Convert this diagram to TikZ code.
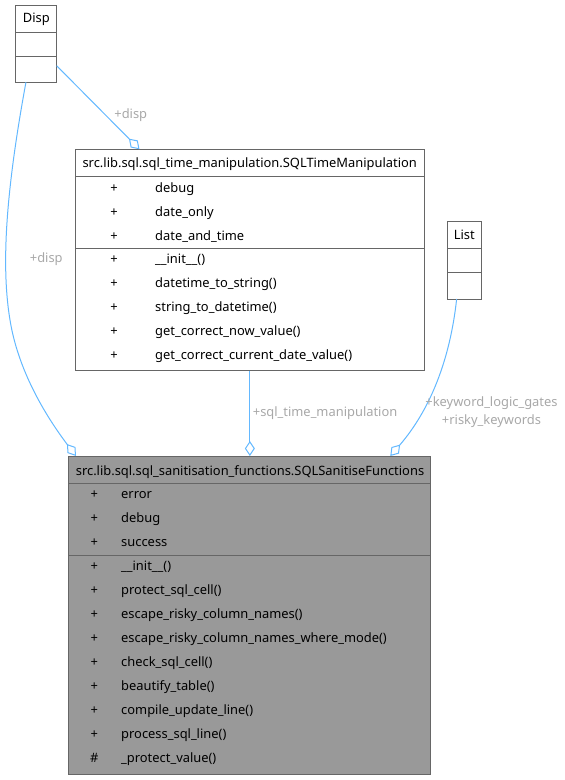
\documentclass[tikz,border=0pt]{standalone}
\usepackage{fontspec}
\setmainfont{Noto Sans}
\usetikzlibrary{arrows.meta}
\definecolor{edgeblue}{HTML}{63B8FF}
\definecolor{lblgray}{HTML}{A8A8A8}
\definecolor{boxline}{HTML}{666666}
\definecolor{hlfill}{HTML}{999999}
\begin{document}
\begin{tikzpicture}[x=1pt,y=-1pt,
  cls/.style={draw=boxline, line width=1pt, fill=white, inner sep=0pt, outer sep=0pt},
  hlcls/.style={cls, fill=hlfill},
  divider/.style={draw=boxline, line width=1pt},
  txt/.style={inner sep=0pt, anchor=base, font=\fontsize{12.9}{15}\selectfont},
  itm/.style={txt, anchor=base west},
  lbl/.style={inner sep=0pt, text=lblgray, font=\fontsize{12.9}{15}\selectfont},
  edge/.style={draw=edgeblue, line width=1pt, -{Diamond[open, length=15pt, width=10pt]}}
]
\useasboundingbox (0,0) rectangle (565,780);

% ---------- Disp ----------
\node[cls, minimum width=40.7pt, minimum height=77pt] (disp) at (36.3,43.7) {};
\draw[divider] (disp.west |- 0,32.3) -- (disp.east |- 0,32.3);
\draw[divider] (disp.west |- 0,56.3) -- (disp.east |- 0,56.3);
\node[txt] (dispT) at (36.3,22.8) {Disp};

% ---------- List ----------
\node[cls, minimum width=33.3pt, minimum height=77.3pt] (list) at (464.35,260.35) {};
\draw[divider] (list.west |- 0,248.3) -- (list.east |- 0,248.3);
\draw[divider] (list.west |- 0,272.3) -- (list.east |- 0,272.3);
\node[txt] (listT) at (464.3,239.5) {List};

% ---------- SQLTimeManipulation ----------
\node[cls, minimum width=348.3pt, minimum height=221.4pt] (time) at (249.85,260) {};
\draw[divider] (time.west |- 0,176.7) -- (time.east |- 0,176.7);
\draw[divider] (time.west |- 0,248) -- (time.east |- 0,248);
\node[txt] (timeT) at (249.7,167.8) {src.lib.sql.sql\_time\_manipulation.SQLTimeManipulation};
\foreach \n/\y/\t in {a/192.2/debug, b/216.2/date\_only, c/240.2/date\_and\_time,
  d/263.8/\_\_init\_\_(), e/287.8/datetime\_to\_string(), f/311.8/string\_to\_datetime(),
  g/335.8/get\_correct\_now\_value(), h/359.8/get\_correct\_current\_date\_value()}{
  \node[txt] (tv\n) at (114,\y) {+};
  \node[itm] (tn\n) at (155,\y) {\t};
}

% ---------- SQLSanitiseFunctions ----------
\node[hlcls, minimum width=362pt, minimum height=318.3pt] (san) at (249.3,615.15) {};
\draw[divider] (san.west |- 0,483.3) -- (san.east |- 0,483.3);
\draw[divider] (san.west |- 0,555.3) -- (san.east |- 0,555.3);
\node[txt] (sanT) at (250,475.2) {src.lib.sql.sql\_sanitisation\_functions.SQLSanitiseFunctions};
\foreach \n/\y/\v/\t in {a/498.8/+/error, b/522.8/+/debug, c/546.8/+/success,
  d/570.8/+/\_\_init\_\_(), e/594.8/+/protect\_sql\_cell(), f/618.8/+/escape\_risky\_column\_names(),
  g/642.8/+/escape\_risky\_column\_names\_where\_mode(), h/666.8/+/check\_sql\_cell(),
  i/690.8/+/beautify\_table(), j/714.8/+/compile\_update\_line(), k/738.8/+/process\_sql\_line(),
  l/762.8/\#/\_protect\_value()}{
  \node[txt] (sv\n) at (94.3,\y) {\v};
  \node[itm] (sn\n) at (121,\y) {\t};
}

% ---------- Edges ----------
\draw[edge] ([xshift=10pt]disp.south west) .. controls (8,180) and (0,260) .. (10,320)
  .. controls (18,370) and (45,415) .. ([xshift=7.7pt]san.north west);
\draw[edge] ([yshift=-22pt]disp.east) -- ([xshift=63.8pt]time.north west);
\draw[edge] (time.south) -- (time.south |- san.north);
\draw[edge] ([xshift=-7.7pt]list.south) .. controls (450,360) and (430,410) .. ([xshift=-40pt]san.north east);

% ---------- Edge labels ----------
\node[lbl] (l1) at (46.3,259.3) {+disp};
\node[lbl] (l2) at (130.8,115) {+disp};
\node[lbl, anchor=west] (l3) at (252.7,412.7) {+sql\_time\_manipulation};
\node[lbl, align=center, font=\fontsize{12.9}{17.7}\selectfont] (l4) at (491.5,412) {+keyword\_logic\_gates\\+risky\_keywords};
\end{tikzpicture}
\end{document}
